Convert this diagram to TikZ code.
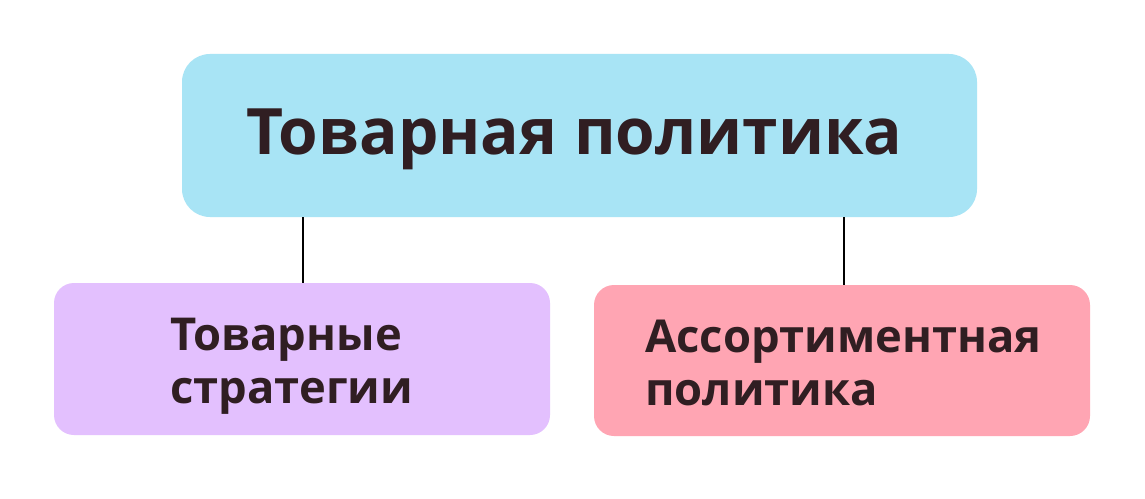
\documentclass[tikz,border=0pt]{standalone}
\usepackage{fontspec}
\IfFontExistsTF{Open Sans Bold}{\setmainfont{Open Sans}[BoldFont={Open Sans Bold}]}{\setmainfont{DejaVu Sans}}
\definecolor{topc}{HTML}{A8E4F5}
\definecolor{leftc}{HTML}{E3C0FE}
\definecolor{rightc}{HTML}{FFA5B3}
\definecolor{txt}{HTML}{301E22}
\tikzset{
  bigbox/.style={fill=topc, rounded corners=28*0.75pt},
  smallbox/.style={rounded corners=20*0.75pt},
  bigtext/.style={anchor=base west, inner sep=0pt, text=txt, font=\fontsize{48}{58}\selectfont\bfseries},
  smalltext/.style={anchor=base west, inner sep=0pt, text=txt, align=left, font=\fontsize{34}{39.5}\selectfont\bfseries},
  link/.style={draw=black, line width=1.1pt}
}
\begin{document}
\begin{tikzpicture}[x=0.75pt,y=-0.75pt]
\useasboundingbox (0,0) rectangle (1145,499);
\fill[white] (0,0) rectangle (1145,499);
\coordinate (tl) at (182,54);
\coordinate (br) at (977,217);
\fill[bigbox] (tl) rectangle (br);
\fill[smallbox, fill=leftc] (54,283) rectangle (550,435);
\fill[smallbox, fill=rightc] (594,285) rectangle (1090,436);
\node[bigtext] (top) at (246,155) {Товарная политика};
\node[smalltext] (lt) at (170,403) {Товарные\\стратегии};
\node[smalltext] (rt) at (645,405) {Ассортиментная\\политика};
\coordinate (a1) at (303,217);
\coordinate (a2) at (303,283);
\coordinate (b1) at (844,217);
\coordinate (b2) at (844,285);
\draw[link] (a1) -- (a2);
\draw[link] (b1) -- (b2);
\end{tikzpicture}
\end{document}
